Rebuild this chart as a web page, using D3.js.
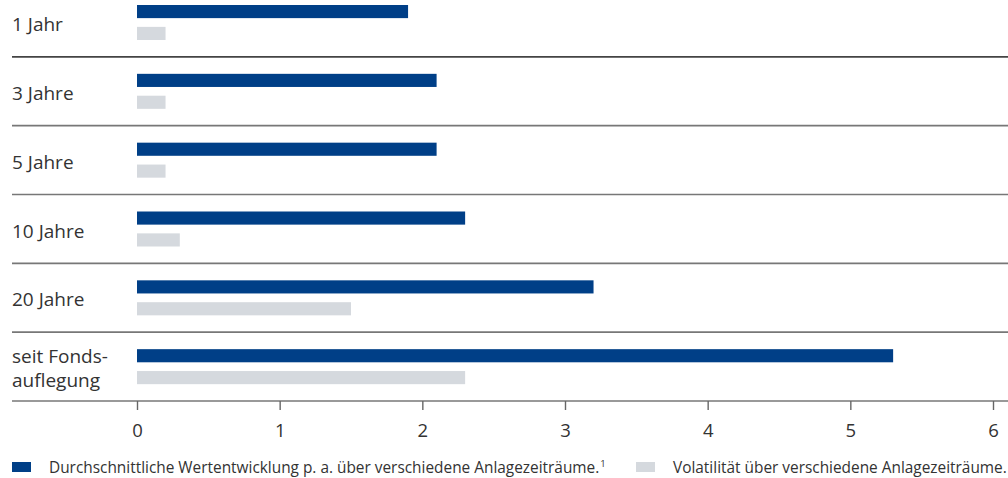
<!DOCTYPE html>
<html><head><meta charset="utf-8">
<script src="https://cdn.jsdelivr.net/npm/d3@7"></script>
<style>body{margin:0;background:#fff}svg{display:block}text{font-family:"Open Sans",sans-serif;fill:#333}</style>
</head><body><svg id="c" width="1008" height="478"></svg>
<script>
const categories = [["1 Jahr"],["3 Jahre"],["5 Jahre"],["10 Jahre"],["20 Jahre"],["seit Fonds-","auflegung"]];
const wertentwicklung = [1.9, 2.1, 2.1, 2.3, 3.2, 5.3];
const volatilitaet = [0.2, 0.2, 0.2, 0.3, 1.5, 2.3];
const ticks = [0,1,2,3,4,5,6];
const seriesNames = ["Durchschnittliche Wertentwicklung p. a. über verschiedene Anlagezeiträume.", "Volatilität über verschiedene Anlagezeiträume."];
const colors = ["#003f87", "#d5d9de"];

const svg = d3.select("#c");
const x = d3.scaleLinear().domain([0,6]).range([137,993]);
const keys = categories.map((d,i)=>i);
const y = d3.scaleBand().domain(keys).range([-12,401]);
const sub = d3.scaleBand().domain([0,1]).range([17,52]).paddingInner(0.4);

// separators
svg.selectAll("line.sep").data(keys).join("line")
  .attr("x1",12).attr("x2",1008)
  .attr("y1",d=>y(d)+y.bandwidth()).attr("y2",d=>y(d)+y.bandwidth())
  .attr("stroke",(d,i)=>i===0?"#444":"#777").attr("stroke-width",1.6);

// bars
const g = svg.selectAll("g.cat").data(keys).join("g").attr("transform",d=>`translate(0,${y(d)})`);
g.append("rect").attr("x",x(0)).attr("y",sub(0)).attr("height",sub.bandwidth())
  .attr("width",d=>x(wertentwicklung[d])-x(0)).attr("fill",colors[0]);
g.append("rect").attr("x",x(0)).attr("y",sub(1)).attr("height",sub.bandwidth())
  .attr("width",d=>x(volatilitaet[d])-x(0)).attr("fill",colors[1]);

// labels
g.each(function(d){
  const lines = categories[d];
  const t = d3.select(this).append("text").attr("x",12).attr("font-size",19);
  const c = y.bandwidth()/2 + 2;
  lines.forEach((l,j)=>{
    t.append("tspan").attr("x",12)
     .attr("y", c + (j-(lines.length-1)/2)*24)
     .attr("dy","0.35em").text(l);
  });
});

// axis
const ax = svg.append("g").attr("transform","translate(0,401)")
  .call(d3.axisBottom(x).tickValues(ticks).tickSize(9).tickPadding(14).tickFormat(d3.format("d")));
ax.select(".domain").remove();
ax.selectAll(".tick line").attr("stroke","#666").attr("stroke-width",1.4);
ax.selectAll(".tick text").attr("font-size",18.5).attr("fill","#333").attr("font-family","'Open Sans',sans-serif");

// legend
const lx = [12, 636];
seriesNames.forEach((n,i)=>{
  svg.append("rect").attr("x",lx[i]).attr("y",462).attr("width",19).attr("height",10).attr("fill",colors[i]);
  const t = svg.append("text").attr("x",lx[i]+37).attr("y",473).attr("font-size",15.4).text(n);
  if(i===0) t.append("tspan").attr("dx",1).attr("dy",-6).attr("font-size",9.5).text("1");
});
</script></body></html>
